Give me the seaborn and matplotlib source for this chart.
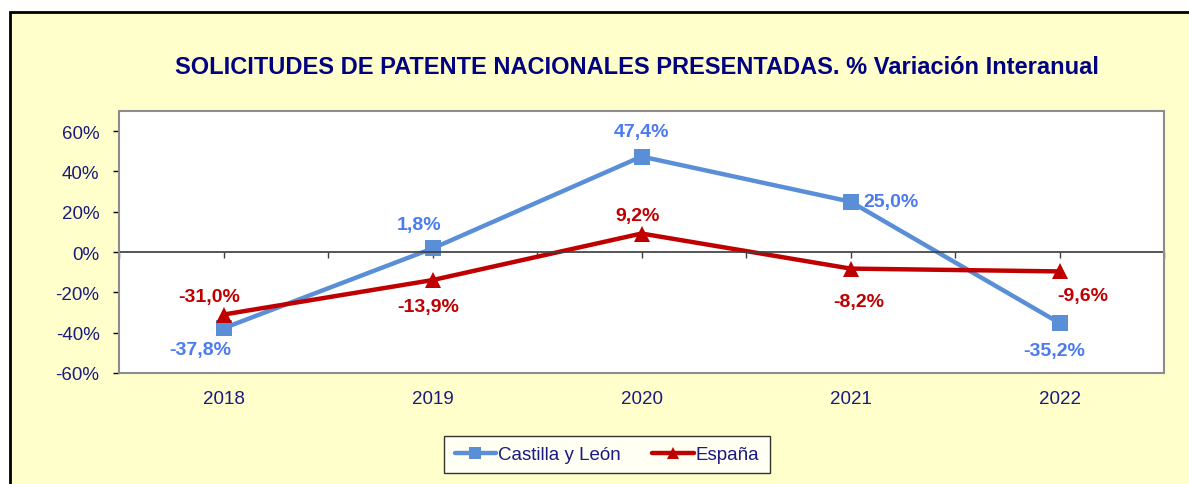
import matplotlib
matplotlib.use("Agg")
import matplotlib.pyplot as plt
from matplotlib.patches import Rectangle
import seaborn as sns
import pandas as pd

# datos
anios = ["2018", "2019", "2020", "2021", "2022"]
castilla_leon = [-37.8, 1.8, 47.4, 25.0, -35.2]
espana = [-31.0, -13.9, 9.2, -8.2, -9.6]
series = ["Castilla y León", "España"]
y_ticks = [-60, -40, -20, 0, 20, 40, 60]

# desplazamiento de las etiquetas (puntos)
off_cyl = [(-17, -15), (-10, 17), (0, 18), (29, 0), (-4, -20)]
off_esp = [(-10, 13), (-3, -19), (-3, 13), (6, -24), (17, -17)]

azul = "#5A8FD8"
azul_txt = "#4A7BF0"
rojo = "#C00000"
navy = "#1A1A80"

sns.set_theme(style="white")
plt.rcParams["font.family"] = ["Liberation Sans", "DejaVu Sans"]

df = pd.DataFrame({
    "x": list(range(len(anios))) * 2,
    "valor": castilla_leon + espana,
    "serie": [series[0]] * len(anios) + [series[1]] * len(anios),
})

fig = plt.figure(figsize=(11.89, 4.85), dpi=100)
fig.patch.set_facecolor("white")
fig.patches.append(Rectangle((10 / 1189, -0.05), 1.2, 1 - 13 / 485 + 0.05,
                             transform=fig.transFigure, facecolor="#FFFFCC",
                             edgecolor="black", linewidth=2, zorder=-10))

ax = fig.add_axes([0.1001, 0.2289, 0.8789, 0.5402])
ax.set_facecolor("white")

sns.lineplot(data=df, x="x", y="valor", hue="serie", style="serie",
             palette=[azul, rojo], markers=["s", "^"], dashes=False,
             markersize=11, linewidth=3.2, markeredgewidth=0, ax=ax)

ax.set_xlim(-0.5, len(anios) - 0.5)
ax.set_ylim(-60, 70)
ax.set_xlabel("")
ax.set_ylabel("")
ax.set_yticks(y_ticks)
ax.set_yticklabels([f"{v}%" for v in y_ticks], color=navy, fontsize=13.5)
ax.tick_params(axis="y", direction="out", length=4, width=1, color="black",
               left=True, pad=10)

# eje x en el cero
for s in ["top", "right"]:
    ax.spines[s].set_visible(False)
ax.spines["left"].set_color("black")
ax.spines["bottom"].set_position(("data", 0))
ax.spines["bottom"].set_color("#404040")
ax.set_xticks(range(len(anios)))
ax.set_xticks([i - 0.5 for i in range(len(anios) + 1)], minor=True)
ax.tick_params(axis="x", which="both", direction="out", length=4, width=1,
               color="#404040", bottom=True, labelbottom=False)

sec = ax.secondary_xaxis("bottom")
sec.set_xticks(range(len(anios)))
sec.set_xticklabels(anios, color=navy, fontsize=13.5)
sec.tick_params(length=0, pad=12)
sec.spines["bottom"].set_visible(False)

ax.add_patch(Rectangle((0, 0), 1, 1, transform=ax.transAxes, fill=False,
                       edgecolor="#8C8C8C", linewidth=1.5, clip_on=False, zorder=5))

def fmt(v):
    return f"{v:.1f}%".replace(".", ",")

for i, v in enumerate(castilla_leon):
    ax.annotate(fmt(v), (i, v), xytext=off_cyl[i], textcoords="offset points",
                ha="center", va="center", color=azul_txt, fontsize=14, fontweight="bold")
for i, v in enumerate(espana):
    ax.annotate(fmt(v), (i, v), xytext=off_esp[i], textcoords="offset points",
                ha="center", va="center", color=rojo, fontsize=14, fontweight="bold")

fig.text(0.536, 0.86, "SOLICITUDES DE PATENTE NACIONALES PRESENTADAS. % Variación Interanual",
         ha="center", va="center", color="#000080", fontsize=17, fontweight="bold")

ax.get_legend().remove()
handles, labels = ax.get_legend_handles_labels()
leg = fig.legend(handles, labels, loc="center", bbox_to_anchor=(0.5105, 0.0608),
                 bbox_transform=fig.transFigure, ncol=2, fontsize=13.5,
                 frameon=True, fancybox=False, edgecolor="black",
                 handlelength=2.2, handletextpad=0.1, columnspacing=1.7,
                 borderpad=0.55)
leg.get_frame().set_linewidth(1)
for h in leg.legend_handles:
    h.set_markersize(8)
for t in leg.get_texts():
    t.set_color(navy)

fig.savefig("out.png", dpi=100)
